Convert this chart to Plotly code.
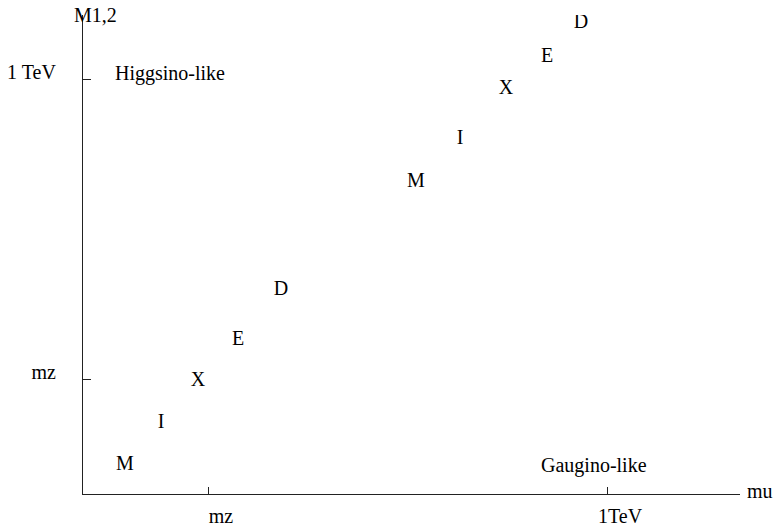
import plotly.graph_objects as go

# Letter markers (positions in arbitrary axis units)
letters = ["M", "I", "X", "E", "D"]
low_x = [42, 78, 115, 155, 198]
low_y = [29, 71, 113, 154, 204]
high_x = [333, 377, 423, 464, 498]
high_y = [312, 355, 405, 437, 471]

x_tickvals = [125, 524]
x_ticktext = ["mz", "1TeV"]
y_tickvals = [115, 415]
y_ticktext = ["mz", "1 TeV"]

region_labels = ["Higgsino-like", "Gaugino-like"]
region_x = [87, 511]
region_y = [421, 29]

FONT = "Liberation Serif, Times New Roman, serif"
FS = 20

fig = go.Figure()
fig.add_trace(go.Scatter(x=low_x, y=low_y, mode="text", text=letters,
                         textposition="middle center",
                         textfont=dict(family=FONT, size=FS, color="black"),
                         showlegend=False, hoverinfo="skip"))
fig.add_trace(go.Scatter(x=high_x, y=high_y, mode="text", text=letters,
                         textposition="middle center",
                         textfont=dict(family=FONT, size=FS, color="black"),
                         showlegend=False, hoverinfo="skip"))

for t, x, y in zip(region_labels, region_x, region_y):
    fig.add_annotation(x=x, y=y, xref="x", yref="y", text=t, showarrow=False,
                       font=dict(family=FONT, size=FS, color="black"))

fig.add_annotation(x=0, y=1, xref="paper", yref="paper", text="M1,2",
                   showarrow=False, xanchor="center", yanchor="middle", xshift=12,
                   font=dict(family=FONT, size=FS, color="black"))
fig.add_annotation(x=1, y=0, xref="paper", yref="paper", text="mu",
                   showarrow=False, xanchor="left", yanchor="middle", xshift=5, yshift=3,
                   font=dict(family=FONT, size=FS, color="black"))

fig.update_xaxes(range=[0, 657], showgrid=False, zeroline=False,
                 showline=True, linecolor="#222", linewidth=1.3,
                 ticks="inside", ticklen=7, tickcolor="#222", tickwidth=1,
                 tickvals=x_tickvals, ticktext=x_ticktext,
                 ticklabelstandoff=4, ticklabelshift=13,
                 tickfont=dict(family=FONT, size=FS, color="black"))
fig.update_yaxes(range=[0, 479], showgrid=False, zeroline=False,
                 showline=True, linecolor="#222", linewidth=1.3,
                 ticks="inside", ticklen=8, tickcolor="#222", tickwidth=1,
                 tickvals=y_tickvals, ticktext=y_ticktext,
                 ticklabelstandoff=22, ticklabelshift=-7,
                 tickfont=dict(family=FONT, size=FS, color="black"))

fig.update_layout(width=773, height=527,
                  margin=dict(l=83, r=33, t=15, b=33, autoexpand=False),
                  paper_bgcolor="white", plot_bgcolor="white")

fig.write_html("out.html", config={"displayModeBar": False},
               post_script="document.body.style.margin='0';document.body.style.overflow='hidden';")
